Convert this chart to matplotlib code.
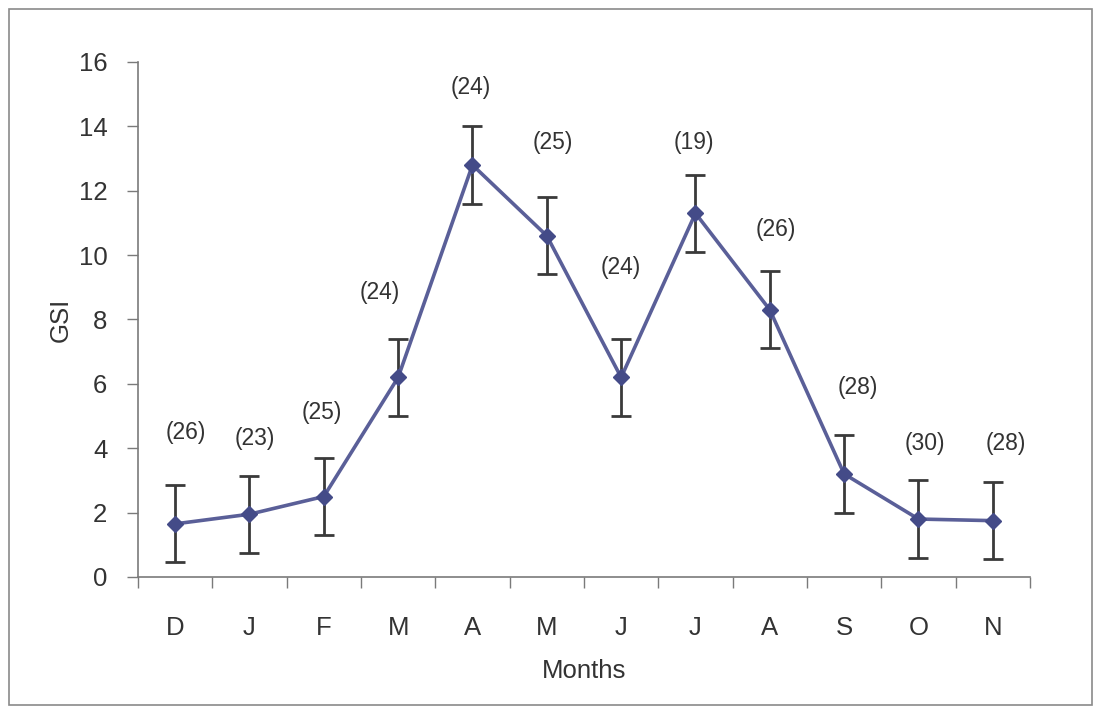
import matplotlib
matplotlib.use("Agg")
import matplotlib.pyplot as plt
from matplotlib.patches import Rectangle

months = ["D", "J", "F", "M", "A", "M", "J", "J", "A", "S", "O", "N"]
gsi = [1.65, 1.95, 2.5, 6.2, 12.8, 10.6, 6.2, 11.3, 8.3, 3.2, 1.8, 1.75]
err = [1.2, 1.2, 1.2, 1.2, 1.2, 1.2, 1.2, 1.2, 1.2, 1.2, 1.2, 1.2]
n_labels = ["(26)", "(23)", "(25)", "(24)", "(24)", "(25)", "(24)", "(19)", "(26)", "(28)", "(30)", "(28)"]
# label placement (layout only)
lab_dx = [0.15, 0.07, -0.02, -0.25, -0.02, 0.08, 0.0, -0.02, 0.08, 0.19, 0.08, 0.18]
lab_y = [4.5, 4.3, 5.1, 8.85, 15.2, 13.5, 9.6, 13.5, 10.8, 5.9, 4.15, 4.15]

plt.rcParams['font.family'] = ['Liberation Sans', 'DejaVu Sans']
txt = "#333333"

fig = plt.figure(figsize=(10.94, 7.09), dpi=100)
fig.patches.append(Rectangle((0.008, 0.006), 0.99, 0.982, transform=fig.transFigure,
                             fill=False, edgecolor="#8a8a8a", linewidth=1.2))
ax = fig.add_axes([0.1261, 0.1862, 0.8154, 0.7264])

x = list(range(len(months)))
ax.errorbar(x, gsi, yerr=err, fmt="none", ecolor="#3a3a3a", elinewidth=2.0,
            capsize=7, capthick=2.0, zorder=2)
ax.plot(x, gsi, color="#5a5f98", linewidth=2.6, marker="D", markersize=8,
        markerfacecolor="#444b88", markeredgecolor="#444b88", zorder=3)

for i, lab in enumerate(n_labels):
    ax.text(x[i] + lab_dx[i], lab_y[i], lab, ha="center", va="center",
            fontsize=16.5, color=txt)

ax.set_xlim(-0.5, len(months) - 0.5)
ax.set_ylim(0, 16)
ax.set_yticks(range(0, 17, 2))
ax.set_xticks(x)
ax.set_xticklabels(months)
ax.set_xticks([i - 0.5 for i in range(len(months) + 1)], minor=True)
ax.tick_params(axis="x", which="major", length=0, pad=28, labelsize=18.5, labelcolor=txt)
ax.tick_params(axis="x", which="minor", length=8, width=1, color="#7a7a7a", direction="out")
ax.tick_params(axis="y", length=8, width=1, color="#7a7a7a", pad=14, labelsize=18.5, labelcolor=txt)

for s in ["top", "right"]:
    ax.spines[s].set_visible(False)
for s in ["left", "bottom"]:
    ax.spines[s].set_color("#7a7a7a")
    ax.spines[s].set_linewidth(1.2)

ax.set_xlabel("Months", fontsize=18.5, color=txt, labelpad=14)
ax.set_ylabel("GSI", fontsize=18.5, color=txt, labelpad=4)

fig.savefig("out.png", dpi=100)
